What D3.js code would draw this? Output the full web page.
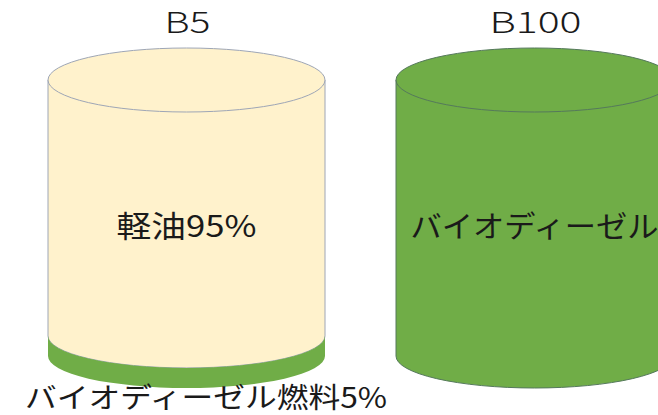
<!DOCTYPE html>
<html>
<head>
<meta charset="utf-8">
<script src="https://cdn.jsdelivr.net/npm/d3@7"></script>
<style>
html,body{margin:0;padding:0;background:#fff;overflow:hidden;}
svg{display:block;}
</style>
</head>
<body>
<svg id="chart" width="658" height="415"></svg>
<script>
// ---- data ----
const categories = ["B5", "B100"];
const biodieselShare = [5, 100];
const dieselShare = [95, 0];
const innerLabels = ["軽油95%", "バイオディーゼル"];
const footLabel = "バイオディーゼル燃料5%";

// ---- layout ----
const W = 658, H = 415;
const rx = 138.5, ry = 32;
const svg = d3.select("#chart");
const x = d3.scalePoint().domain(categories).range([186.5, 534.5]);
// fill level -> vertical position of the liquid surface
const y = d3.scalePow().exponent(0.875).domain([0, 100]).range([356, 80]);

const font = "'Noto Sans CJK JP', 'Noto Sans', sans-serif";
const green = "#70AD47", beige = "#FFF2CC";

function bandPath(cx, yTop, yBot, closeTop) {
  const l = cx - rx, r = cx + rx;
  let p = `M${l},${yTop} L${l},${yBot} A${rx},${ry} 0 0 0 ${r},${yBot} L${r},${yTop}`;
  if (closeTop) p += ` A${rx},${ry} 0 0 1 ${l},${yTop}`;
  return p + " Z";
}

categories.forEach((c, i) => {
  const cx = x(c);
  const g = svg.append("g");
  const bio = biodieselShare[i], dsl = dieselShare[i];
  const yBio = y(bio), yAll = y(bio + dsl);
  const outline = dsl > 0 ? "#9EA6B6" : "#55795C";
  if (dsl > 0) {
    g.append("path").attr("d", bandPath(cx, yAll, yBio, false))
      .attr("fill", beige).attr("stroke", outline).attr("stroke-width", 1);
    g.append("path").attr("d", bandPath(cx, yBio, y(0), true))
      .attr("fill", green).attr("stroke", "none");
    g.append("ellipse").attr("cx", cx).attr("cy", yAll).attr("rx", rx).attr("ry", ry)
      .attr("fill", beige).attr("stroke", outline).attr("stroke-width", 1);
  } else {
    g.append("path").attr("d", bandPath(cx, yBio, y(0), false))
      .attr("fill", green).attr("stroke", outline).attr("stroke-width", 1);
    g.append("ellipse").attr("cx", cx).attr("cy", yBio).attr("rx", rx).attr("ry", ry)
      .attr("fill", green).attr("stroke", outline).attr("stroke-width", 1);
  }
  svg.append("text").attr("x", cx + 1).attr("y", 33)
    .attr("text-anchor", "middle").attr("font-family", font).attr("font-size", 29)
    .attr("font-weight", 300).attr("fill", "#1a1a1a")
    .attr("textLength", c.length === 2 ? 46 : 92).attr("lengthAdjust", "spacingAndGlyphs")
    .text(c);
  svg.append("text").attr("x", cx).attr("y", 237)
    .attr("text-anchor", "middle").attr("font-family", font).attr("font-size", 30)
    .attr("fill", "#1a1a1a")
    .attr("textLength", i === 0 ? 140 : 248).attr("lengthAdjust", "spacingAndGlyphs")
    .text(innerLabels[i]);
});

svg.append("text").attr("x", 206).attr("y", 408)
  .attr("text-anchor", "middle").attr("font-family", font).attr("font-size", 28)
  .attr("fill", "#1a1a1a")
  .attr("textLength", 362).attr("lengthAdjust", "spacingAndGlyphs")
  .text(footLabel);
</script>
</body>
</html>
